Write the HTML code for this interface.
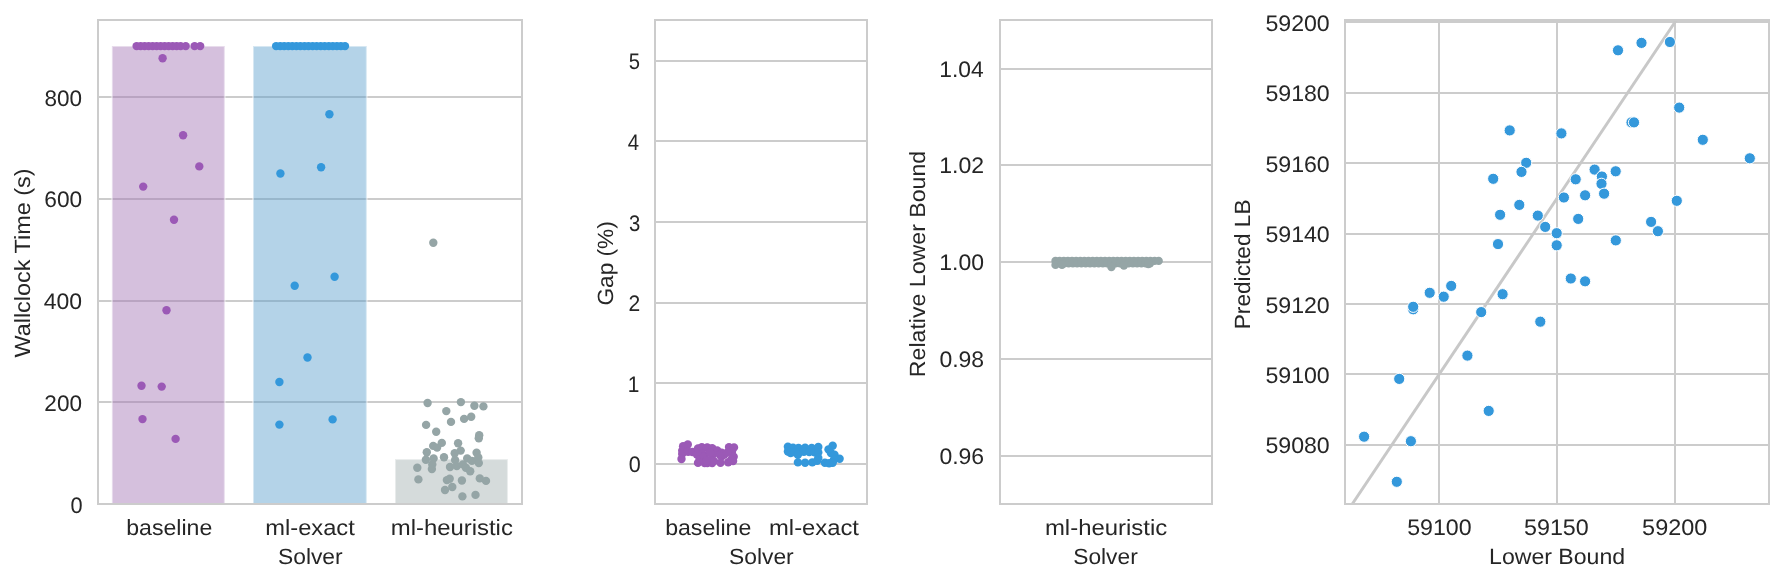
<!DOCTYPE html>
<html><head><meta charset="utf-8"><style>
html,body{margin:0;padding:0;background:#fff;width:1784px;height:582px;overflow:hidden}
svg{display:block;will-change:transform}
text{font-family:"Liberation Sans",sans-serif;fill:#262626;text-rendering:geometricPrecision}
</style></head><body>
<svg width="1784" height="582" viewBox="0 0 1784 582">
<rect x="0" y="0" width="1784" height="582" fill="#fff"/>
<rect x="98" y="96" width="424" height="2" fill="#cccccc" />
<rect x="98" y="198" width="424" height="2" fill="#cccccc" />
<rect x="98" y="300" width="424" height="2" fill="#cccccc" />
<rect x="98" y="401" width="424" height="2" fill="#cccccc" />
<rect x="111.9" y="46" width="112.9" height="458" fill="rgb(162,115,179)" fill-opacity="0.45" stroke="#fff" stroke-opacity="0.45" stroke-width="2"/>
<rect x="253.0" y="46" width="113.8" height="458" fill="rgb(88,157,204)" fill-opacity="0.45" stroke="#fff" stroke-opacity="0.45" stroke-width="2"/>
<rect x="395.0" y="459.1" width="112.9" height="44.9" fill="rgb(162,175,175)" fill-opacity="0.45" stroke="#fff" stroke-opacity="0.45" stroke-width="2"/>
<circle cx="136.6" cy="46.1" r="4.2" fill="#9b59b6" />
<circle cx="140.6" cy="46.1" r="4.2" fill="#9b59b6" />
<circle cx="144.6" cy="46.1" r="4.2" fill="#9b59b6" />
<circle cx="148.6" cy="46.1" r="4.2" fill="#9b59b6" />
<circle cx="152.6" cy="46.1" r="4.2" fill="#9b59b6" />
<circle cx="156.6" cy="46.1" r="4.2" fill="#9b59b6" />
<circle cx="160.6" cy="46.1" r="4.2" fill="#9b59b6" />
<circle cx="164.6" cy="46.1" r="4.2" fill="#9b59b6" />
<circle cx="168.6" cy="46.1" r="4.2" fill="#9b59b6" />
<circle cx="172.6" cy="46.1" r="4.2" fill="#9b59b6" />
<circle cx="176.6" cy="46.1" r="4.2" fill="#9b59b6" />
<circle cx="180.6" cy="46.1" r="4.2" fill="#9b59b6" />
<circle cx="185.7" cy="46.1" r="4.2" fill="#9b59b6" />
<circle cx="194.6" cy="46.1" r="4.2" fill="#9b59b6" />
<circle cx="200.2" cy="46.1" r="4.2" fill="#9b59b6" />
<circle cx="162.6" cy="58.2" r="4.2" fill="#9b59b6" />
<circle cx="183.1" cy="135.2" r="4.2" fill="#9b59b6" />
<circle cx="199.3" cy="166.4" r="4.2" fill="#9b59b6" />
<circle cx="143.2" cy="186.6" r="4.2" fill="#9b59b6" />
<circle cx="174.0" cy="219.8" r="4.2" fill="#9b59b6" />
<circle cx="166.5" cy="310.3" r="4.2" fill="#9b59b6" />
<circle cx="141.5" cy="385.7" r="4.2" fill="#9b59b6" />
<circle cx="161.7" cy="386.6" r="4.2" fill="#9b59b6" />
<circle cx="142.5" cy="419.1" r="4.2" fill="#9b59b6" />
<circle cx="175.6" cy="438.9" r="4.2" fill="#9b59b6" />
<circle cx="276.1" cy="46.1" r="4.2" fill="#3498db" />
<circle cx="280.2" cy="46.1" r="4.2" fill="#3498db" />
<circle cx="284.2" cy="46.1" r="4.2" fill="#3498db" />
<circle cx="288.3" cy="46.1" r="4.2" fill="#3498db" />
<circle cx="292.3" cy="46.1" r="4.2" fill="#3498db" />
<circle cx="296.4" cy="46.1" r="4.2" fill="#3498db" />
<circle cx="300.4" cy="46.1" r="4.2" fill="#3498db" />
<circle cx="304.5" cy="46.1" r="4.2" fill="#3498db" />
<circle cx="308.5" cy="46.1" r="4.2" fill="#3498db" />
<circle cx="312.6" cy="46.1" r="4.2" fill="#3498db" />
<circle cx="316.6" cy="46.1" r="4.2" fill="#3498db" />
<circle cx="320.7" cy="46.1" r="4.2" fill="#3498db" />
<circle cx="324.7" cy="46.1" r="4.2" fill="#3498db" />
<circle cx="328.8" cy="46.1" r="4.2" fill="#3498db" />
<circle cx="332.8" cy="46.1" r="4.2" fill="#3498db" />
<circle cx="336.9" cy="46.1" r="4.2" fill="#3498db" />
<circle cx="340.9" cy="46.1" r="4.2" fill="#3498db" />
<circle cx="345.0" cy="46.1" r="4.2" fill="#3498db" />
<circle cx="329.4" cy="114.2" r="4.2" fill="#3498db" />
<circle cx="280.4" cy="173.5" r="4.2" fill="#3498db" />
<circle cx="321.1" cy="167.2" r="4.2" fill="#3498db" />
<circle cx="334.6" cy="276.7" r="4.2" fill="#3498db" />
<circle cx="294.7" cy="285.8" r="4.2" fill="#3498db" />
<circle cx="307.5" cy="357.5" r="4.2" fill="#3498db" />
<circle cx="279.4" cy="382.0" r="4.2" fill="#3498db" />
<circle cx="332.6" cy="419.4" r="4.2" fill="#3498db" />
<circle cx="279.4" cy="424.6" r="4.2" fill="#3498db" />
<circle cx="433.3" cy="242.8" r="4.2" fill="#95a5a6" />
<circle cx="427.6" cy="403.0" r="4.2" fill="#95a5a6" />
<circle cx="460.9" cy="402.1" r="4.2" fill="#95a5a6" />
<circle cx="474.4" cy="405.8" r="4.2" fill="#95a5a6" />
<circle cx="483.4" cy="406.4" r="4.2" fill="#95a5a6" />
<circle cx="446.3" cy="411.1" r="4.2" fill="#95a5a6" />
<circle cx="451.0" cy="421.9" r="4.2" fill="#95a5a6" />
<circle cx="464.1" cy="418.9" r="4.2" fill="#95a5a6" />
<circle cx="471.2" cy="416.7" r="4.2" fill="#95a5a6" />
<circle cx="426.1" cy="424.9" r="4.2" fill="#95a5a6" />
<circle cx="436.2" cy="431.7" r="4.2" fill="#95a5a6" />
<circle cx="479.2" cy="435.2" r="4.2" fill="#95a5a6" />
<circle cx="478.8" cy="438.2" r="4.2" fill="#95a5a6" />
<circle cx="441.8" cy="442.9" r="4.2" fill="#95a5a6" />
<circle cx="433.2" cy="445.9" r="4.2" fill="#95a5a6" />
<circle cx="437.1" cy="447.6" r="4.2" fill="#95a5a6" />
<circle cx="458.1" cy="443.3" r="4.2" fill="#95a5a6" />
<circle cx="460.7" cy="450.6" r="4.2" fill="#95a5a6" />
<circle cx="426.8" cy="452.3" r="4.2" fill="#95a5a6" />
<circle cx="454.7" cy="453.2" r="4.2" fill="#95a5a6" />
<circle cx="476.6" cy="452.8" r="4.2" fill="#95a5a6" />
<circle cx="425.9" cy="459.7" r="4.2" fill="#95a5a6" />
<circle cx="433.6" cy="458.4" r="4.2" fill="#95a5a6" />
<circle cx="444.0" cy="457.3" r="4.2" fill="#95a5a6" />
<circle cx="455.1" cy="460.1" r="4.2" fill="#95a5a6" />
<circle cx="467.2" cy="458.4" r="4.2" fill="#95a5a6" />
<circle cx="471.9" cy="460.9" r="4.2" fill="#95a5a6" />
<circle cx="478.3" cy="457.5" r="4.2" fill="#95a5a6" />
<circle cx="432.3" cy="464.4" r="4.2" fill="#95a5a6" />
<circle cx="431.9" cy="469.1" r="4.2" fill="#95a5a6" />
<circle cx="417.3" cy="467.8" r="4.2" fill="#95a5a6" />
<circle cx="450.0" cy="467.0" r="4.2" fill="#95a5a6" />
<circle cx="456.8" cy="466.1" r="4.2" fill="#95a5a6" />
<circle cx="462.9" cy="464.4" r="4.2" fill="#95a5a6" />
<circle cx="465.9" cy="467.8" r="4.2" fill="#95a5a6" />
<circle cx="470.2" cy="471.3" r="4.2" fill="#95a5a6" />
<circle cx="478.8" cy="463.1" r="4.2" fill="#95a5a6" />
<circle cx="418.4" cy="479.4" r="4.2" fill="#95a5a6" />
<circle cx="446.9" cy="480.1" r="4.2" fill="#95a5a6" />
<circle cx="449.7" cy="478.8" r="4.2" fill="#95a5a6" />
<circle cx="461.9" cy="480.5" r="4.2" fill="#95a5a6" />
<circle cx="479.8" cy="478.4" r="4.2" fill="#95a5a6" />
<circle cx="486.0" cy="480.9" r="4.2" fill="#95a5a6" />
<circle cx="452.3" cy="487.0" r="4.2" fill="#95a5a6" />
<circle cx="445.0" cy="490.0" r="4.2" fill="#95a5a6" />
<circle cx="462.4" cy="496.4" r="4.2" fill="#95a5a6" />
<circle cx="475.5" cy="494.9" r="4.2" fill="#95a5a6" />
<rect x="97" y="19" width="2" height="486" fill="#cccccc" />
<rect x="521" y="19" width="2" height="486" fill="#cccccc" />
<rect x="97" y="19" width="426" height="2" fill="#cccccc" />
<rect x="97" y="503" width="426" height="2" fill="#cccccc" />
<rect x="655" y="60" width="212" height="2" fill="#cccccc" />
<rect x="655" y="140" width="212" height="2" fill="#cccccc" />
<rect x="655" y="221" width="212" height="2" fill="#cccccc" />
<rect x="655" y="302" width="212" height="2" fill="#cccccc" />
<rect x="655" y="382" width="212" height="2" fill="#cccccc" />
<rect x="655" y="463" width="212" height="2" fill="#cccccc" />
<circle cx="687.8" cy="444.5" r="4.2" fill="#9b59b6" />
<circle cx="683.1" cy="446.2" r="4.2" fill="#9b59b6" />
<circle cx="682.2" cy="450.6" r="4.2" fill="#9b59b6" />
<circle cx="682.2" cy="453.9" r="4.2" fill="#9b59b6" />
<circle cx="681.5" cy="459.0" r="4.2" fill="#9b59b6" />
<circle cx="688.1" cy="451.7" r="4.2" fill="#9b59b6" />
<circle cx="692.5" cy="452.0" r="4.2" fill="#9b59b6" />
<circle cx="696.9" cy="454.5" r="4.2" fill="#9b59b6" />
<circle cx="698.0" cy="448.4" r="4.2" fill="#9b59b6" />
<circle cx="701.8" cy="447.2" r="4.2" fill="#9b59b6" />
<circle cx="706.8" cy="447.9" r="4.2" fill="#9b59b6" />
<circle cx="702.4" cy="453.9" r="4.2" fill="#9b59b6" />
<circle cx="698.0" cy="462.9" r="4.2" fill="#9b59b6" />
<circle cx="704.6" cy="463.0" r="4.2" fill="#9b59b6" />
<circle cx="699.6" cy="459.4" r="4.2" fill="#9b59b6" />
<circle cx="704.0" cy="460.0" r="4.2" fill="#9b59b6" />
<circle cx="707.3" cy="447.4" r="4.2" fill="#9b59b6" />
<circle cx="712.2" cy="448.2" r="4.2" fill="#9b59b6" />
<circle cx="717.2" cy="450.4" r="4.2" fill="#9b59b6" />
<circle cx="721.6" cy="452.6" r="4.2" fill="#9b59b6" />
<circle cx="712.8" cy="454.5" r="4.2" fill="#9b59b6" />
<circle cx="722.1" cy="456.1" r="4.2" fill="#9b59b6" />
<circle cx="707.3" cy="463.0" r="4.2" fill="#9b59b6" />
<circle cx="712.2" cy="463.0" r="4.2" fill="#9b59b6" />
<circle cx="720.5" cy="462.7" r="4.2" fill="#9b59b6" />
<circle cx="728.2" cy="462.2" r="4.2" fill="#9b59b6" />
<circle cx="729.0" cy="447.1" r="4.2" fill="#9b59b6" />
<circle cx="734.0" cy="447.4" r="4.2" fill="#9b59b6" />
<circle cx="732.0" cy="451.7" r="4.2" fill="#9b59b6" />
<circle cx="733.7" cy="456.7" r="4.2" fill="#9b59b6" />
<circle cx="733.1" cy="461.1" r="4.2" fill="#9b59b6" />
<circle cx="704.0" cy="456.1" r="4.2" fill="#9b59b6" />
<circle cx="711.1" cy="460.0" r="4.2" fill="#9b59b6" />
<circle cx="709.5" cy="452.8" r="4.2" fill="#9b59b6" />
<circle cx="713.9" cy="461.1" r="4.2" fill="#9b59b6" />
<circle cx="719.9" cy="455.0" r="4.2" fill="#9b59b6" />
<circle cx="724.3" cy="454.5" r="4.2" fill="#9b59b6" />
<circle cx="731.5" cy="459.4" r="4.2" fill="#9b59b6" />
<circle cx="727.1" cy="452.6" r="4.2" fill="#9b59b6" />
<circle cx="710.1" cy="452.8" r="4.2" fill="#9b59b6" />
<circle cx="706.8" cy="460.5" r="4.2" fill="#9b59b6" />
<circle cx="787.9" cy="446.7" r="4.2" fill="#3498db" />
<circle cx="793.0" cy="447.6" r="4.2" fill="#3498db" />
<circle cx="798.5" cy="447.9" r="4.2" fill="#3498db" />
<circle cx="805.1" cy="447.6" r="4.2" fill="#3498db" />
<circle cx="811.7" cy="447.9" r="4.2" fill="#3498db" />
<circle cx="818.3" cy="447.0" r="4.2" fill="#3498db" />
<circle cx="787.9" cy="451.5" r="4.2" fill="#3498db" />
<circle cx="790.6" cy="453.0" r="4.2" fill="#3498db" />
<circle cx="794.8" cy="452.4" r="4.2" fill="#3498db" />
<circle cx="799.1" cy="452.4" r="4.2" fill="#3498db" />
<circle cx="803.9" cy="451.8" r="4.2" fill="#3498db" />
<circle cx="809.3" cy="452.1" r="4.2" fill="#3498db" />
<circle cx="814.7" cy="452.4" r="4.2" fill="#3498db" />
<circle cx="818.3" cy="452.4" r="4.2" fill="#3498db" />
<circle cx="797.9" cy="454.8" r="4.2" fill="#3498db" />
<circle cx="818.3" cy="457.9" r="4.2" fill="#3498db" />
<circle cx="797.9" cy="462.4" r="4.2" fill="#3498db" />
<circle cx="805.1" cy="462.7" r="4.2" fill="#3498db" />
<circle cx="812.3" cy="462.4" r="4.2" fill="#3498db" />
<circle cx="817.1" cy="460.9" r="4.2" fill="#3498db" />
<circle cx="832.7" cy="445.8" r="4.2" fill="#3498db" />
<circle cx="828.5" cy="449.4" r="4.2" fill="#3498db" />
<circle cx="830.9" cy="453.0" r="4.2" fill="#3498db" />
<circle cx="834.5" cy="454.8" r="4.2" fill="#3498db" />
<circle cx="839.6" cy="458.8" r="4.2" fill="#3498db" />
<circle cx="833.9" cy="459.7" r="4.2" fill="#3498db" />
<circle cx="824.9" cy="462.7" r="4.2" fill="#3498db" />
<circle cx="832.7" cy="462.7" r="4.2" fill="#3498db" />
<circle cx="829.1" cy="463.3" r="4.2" fill="#3498db" />
<rect x="654" y="19" width="2" height="486" fill="#cccccc" />
<rect x="866" y="19" width="2" height="486" fill="#cccccc" />
<rect x="654" y="19" width="214" height="2" fill="#cccccc" />
<rect x="654" y="503" width="214" height="2" fill="#cccccc" />
<rect x="1000" y="68" width="212" height="2" fill="#cccccc" />
<rect x="1000" y="164" width="212" height="2" fill="#cccccc" />
<rect x="1000" y="261" width="212" height="2" fill="#cccccc" />
<rect x="1000" y="358" width="212" height="2" fill="#cccccc" />
<rect x="1000" y="455" width="212" height="2" fill="#cccccc" />
<circle cx="1055.5" cy="260.9" r="4.2" fill="#95a5a6" />
<circle cx="1059.6" cy="260.9" r="4.2" fill="#95a5a6" />
<circle cx="1063.8" cy="260.9" r="4.2" fill="#95a5a6" />
<circle cx="1067.9" cy="260.9" r="4.2" fill="#95a5a6" />
<circle cx="1072.0" cy="260.9" r="4.2" fill="#95a5a6" />
<circle cx="1076.1" cy="260.9" r="4.2" fill="#95a5a6" />
<circle cx="1080.3" cy="260.9" r="4.2" fill="#95a5a6" />
<circle cx="1084.4" cy="260.9" r="4.2" fill="#95a5a6" />
<circle cx="1088.5" cy="260.9" r="4.2" fill="#95a5a6" />
<circle cx="1092.7" cy="260.9" r="4.2" fill="#95a5a6" />
<circle cx="1096.8" cy="260.9" r="4.2" fill="#95a5a6" />
<circle cx="1100.9" cy="260.9" r="4.2" fill="#95a5a6" />
<circle cx="1105.0" cy="260.9" r="4.2" fill="#95a5a6" />
<circle cx="1109.2" cy="260.9" r="4.2" fill="#95a5a6" />
<circle cx="1113.3" cy="260.9" r="4.2" fill="#95a5a6" />
<circle cx="1117.4" cy="260.9" r="4.2" fill="#95a5a6" />
<circle cx="1121.5" cy="260.9" r="4.2" fill="#95a5a6" />
<circle cx="1125.7" cy="260.9" r="4.2" fill="#95a5a6" />
<circle cx="1129.8" cy="260.9" r="4.2" fill="#95a5a6" />
<circle cx="1133.9" cy="260.9" r="4.2" fill="#95a5a6" />
<circle cx="1138.1" cy="260.9" r="4.2" fill="#95a5a6" />
<circle cx="1142.2" cy="260.9" r="4.2" fill="#95a5a6" />
<circle cx="1146.3" cy="260.9" r="4.2" fill="#95a5a6" />
<circle cx="1150.4" cy="260.9" r="4.2" fill="#95a5a6" />
<circle cx="1154.6" cy="260.9" r="4.2" fill="#95a5a6" />
<circle cx="1158.7" cy="260.9" r="4.2" fill="#95a5a6" />
<circle cx="1060.0" cy="263.4" r="4.2" fill="#95a5a6" />
<circle cx="1064.3" cy="263.4" r="4.2" fill="#95a5a6" />
<circle cx="1068.6" cy="263.4" r="4.2" fill="#95a5a6" />
<circle cx="1072.9" cy="263.4" r="4.2" fill="#95a5a6" />
<circle cx="1077.1" cy="263.4" r="4.2" fill="#95a5a6" />
<circle cx="1081.4" cy="263.4" r="4.2" fill="#95a5a6" />
<circle cx="1085.7" cy="263.4" r="4.2" fill="#95a5a6" />
<circle cx="1090.0" cy="263.4" r="4.2" fill="#95a5a6" />
<circle cx="1094.3" cy="263.4" r="4.2" fill="#95a5a6" />
<circle cx="1098.6" cy="263.4" r="4.2" fill="#95a5a6" />
<circle cx="1102.9" cy="263.4" r="4.2" fill="#95a5a6" />
<circle cx="1107.1" cy="263.4" r="4.2" fill="#95a5a6" />
<circle cx="1111.4" cy="263.4" r="4.2" fill="#95a5a6" />
<circle cx="1115.7" cy="263.4" r="4.2" fill="#95a5a6" />
<circle cx="1120.0" cy="263.4" r="4.2" fill="#95a5a6" />
<circle cx="1124.3" cy="263.4" r="4.2" fill="#95a5a6" />
<circle cx="1128.6" cy="263.4" r="4.2" fill="#95a5a6" />
<circle cx="1132.9" cy="263.4" r="4.2" fill="#95a5a6" />
<circle cx="1137.1" cy="263.4" r="4.2" fill="#95a5a6" />
<circle cx="1141.4" cy="263.4" r="4.2" fill="#95a5a6" />
<circle cx="1145.7" cy="263.4" r="4.2" fill="#95a5a6" />
<circle cx="1150.0" cy="263.4" r="4.2" fill="#95a5a6" />
<circle cx="1055.5" cy="264.9" r="4.2" fill="#95a5a6" />
<circle cx="1062.0" cy="264.8" r="4.2" fill="#95a5a6" />
<circle cx="1111.4" cy="267.0" r="4.2" fill="#95a5a6" />
<circle cx="1123.9" cy="265.5" r="4.2" fill="#95a5a6" />
<circle cx="1148.4" cy="264.0" r="4.2" fill="#95a5a6" />
<rect x="999" y="19" width="2" height="486" fill="#cccccc" />
<rect x="1211" y="19" width="2" height="486" fill="#cccccc" />
<rect x="999" y="19" width="214" height="2" fill="#cccccc" />
<rect x="999" y="503" width="214" height="2" fill="#cccccc" />
<rect x="1345" y="21" width="424" height="2" fill="#cccccc" />
<rect x="1345" y="92" width="424" height="2" fill="#cccccc" />
<rect x="1345" y="162" width="424" height="2" fill="#cccccc" />
<rect x="1345" y="233" width="424" height="2" fill="#cccccc" />
<rect x="1345" y="303" width="424" height="2" fill="#cccccc" />
<rect x="1345" y="373" width="424" height="2" fill="#cccccc" />
<rect x="1345" y="444" width="424" height="2" fill="#cccccc" />
<rect x="1438" y="20" width="2" height="484" fill="#cccccc" />
<rect x="1556" y="20" width="2" height="484" fill="#cccccc" />
<rect x="1674" y="20" width="2" height="484" fill="#cccccc" />
<line x1="1352.3" y1="504" x2="1676.4" y2="20" stroke="#c8c8c8" stroke-width="3"/>
<circle cx="1509.7" cy="130.4" r="5.6" fill="#3498db" stroke="#ffffff" stroke-width="1"/>
<circle cx="1561.4" cy="133.4" r="5.6" fill="#3498db" stroke="#ffffff" stroke-width="1"/>
<circle cx="1526.2" cy="162.8" r="5.6" fill="#3498db" stroke="#ffffff" stroke-width="1"/>
<circle cx="1521.5" cy="171.9" r="5.6" fill="#3498db" stroke="#ffffff" stroke-width="1"/>
<circle cx="1493.2" cy="178.8" r="5.6" fill="#3498db" stroke="#ffffff" stroke-width="1"/>
<circle cx="1594.6" cy="169.6" r="5.6" fill="#3498db" stroke="#ffffff" stroke-width="1"/>
<circle cx="1601.9" cy="176.5" r="5.6" fill="#3498db" stroke="#ffffff" stroke-width="1"/>
<circle cx="1601.5" cy="183.8" r="5.6" fill="#3498db" stroke="#ffffff" stroke-width="1"/>
<circle cx="1604.1" cy="193.7" r="5.6" fill="#3498db" stroke="#ffffff" stroke-width="1"/>
<circle cx="1615.7" cy="171.3" r="5.6" fill="#3498db" stroke="#ffffff" stroke-width="1"/>
<circle cx="1575.7" cy="179.3" r="5.6" fill="#3498db" stroke="#ffffff" stroke-width="1"/>
<circle cx="1585.1" cy="195.3" r="5.6" fill="#3498db" stroke="#ffffff" stroke-width="1"/>
<circle cx="1563.9" cy="197.5" r="5.6" fill="#3498db" stroke="#ffffff" stroke-width="1"/>
<circle cx="1519.3" cy="204.9" r="5.6" fill="#3498db" stroke="#ffffff" stroke-width="1"/>
<circle cx="1500.1" cy="214.8" r="5.6" fill="#3498db" stroke="#ffffff" stroke-width="1"/>
<circle cx="1537.8" cy="215.6" r="5.6" fill="#3498db" stroke="#ffffff" stroke-width="1"/>
<circle cx="1545.2" cy="226.9" r="5.6" fill="#3498db" stroke="#ffffff" stroke-width="1"/>
<circle cx="1578.2" cy="218.9" r="5.6" fill="#3498db" stroke="#ffffff" stroke-width="1"/>
<circle cx="1556.7" cy="233.2" r="5.6" fill="#3498db" stroke="#ffffff" stroke-width="1"/>
<circle cx="1556.7" cy="245.3" r="5.6" fill="#3498db" stroke="#ffffff" stroke-width="1"/>
<circle cx="1497.9" cy="243.9" r="5.6" fill="#3498db" stroke="#ffffff" stroke-width="1"/>
<circle cx="1615.8" cy="240.4" r="5.6" fill="#3498db" stroke="#ffffff" stroke-width="1"/>
<circle cx="1618.0" cy="50.3" r="5.6" fill="#3498db" stroke="#ffffff" stroke-width="1"/>
<circle cx="1641.5" cy="42.9" r="5.6" fill="#3498db" stroke="#ffffff" stroke-width="1"/>
<circle cx="1669.9" cy="42.0" r="5.6" fill="#3498db" stroke="#ffffff" stroke-width="1"/>
<circle cx="1679.2" cy="107.6" r="5.6" fill="#3498db" stroke="#ffffff" stroke-width="1"/>
<circle cx="1631.5" cy="122.4" r="5.6" fill="#3498db" stroke="#ffffff" stroke-width="1"/>
<circle cx="1634.0" cy="122.4" r="5.6" fill="#3498db" stroke="#ffffff" stroke-width="1"/>
<circle cx="1702.8" cy="139.8" r="5.6" fill="#3498db" stroke="#ffffff" stroke-width="1"/>
<circle cx="1749.8" cy="158.3" r="5.6" fill="#3498db" stroke="#ffffff" stroke-width="1"/>
<circle cx="1676.8" cy="200.8" r="5.6" fill="#3498db" stroke="#ffffff" stroke-width="1"/>
<circle cx="1651.1" cy="221.9" r="5.6" fill="#3498db" stroke="#ffffff" stroke-width="1"/>
<circle cx="1657.9" cy="231.2" r="5.6" fill="#3498db" stroke="#ffffff" stroke-width="1"/>
<circle cx="1451.2" cy="285.9" r="5.6" fill="#3498db" stroke="#ffffff" stroke-width="1"/>
<circle cx="1429.7" cy="292.8" r="5.6" fill="#3498db" stroke="#ffffff" stroke-width="1"/>
<circle cx="1443.7" cy="296.7" r="5.6" fill="#3498db" stroke="#ffffff" stroke-width="1"/>
<circle cx="1413.2" cy="309.3" r="5.6" fill="#3498db" stroke="#ffffff" stroke-width="1"/>
<circle cx="1413.2" cy="306.8" r="5.6" fill="#3498db" stroke="#ffffff" stroke-width="1"/>
<circle cx="1481.2" cy="312.1" r="5.6" fill="#3498db" stroke="#ffffff" stroke-width="1"/>
<circle cx="1467.4" cy="355.6" r="5.6" fill="#3498db" stroke="#ffffff" stroke-width="1"/>
<circle cx="1399.2" cy="378.9" r="5.6" fill="#3498db" stroke="#ffffff" stroke-width="1"/>
<circle cx="1364.1" cy="436.7" r="5.6" fill="#3498db" stroke="#ffffff" stroke-width="1"/>
<circle cx="1410.9" cy="441.2" r="5.6" fill="#3498db" stroke="#ffffff" stroke-width="1"/>
<circle cx="1396.8" cy="481.8" r="5.6" fill="#3498db" stroke="#ffffff" stroke-width="1"/>
<circle cx="1488.7" cy="410.9" r="5.6" fill="#3498db" stroke="#ffffff" stroke-width="1"/>
<circle cx="1570.8" cy="278.5" r="5.6" fill="#3498db" stroke="#ffffff" stroke-width="1"/>
<circle cx="1585.1" cy="281.3" r="5.6" fill="#3498db" stroke="#ffffff" stroke-width="1"/>
<circle cx="1502.6" cy="294.2" r="5.6" fill="#3498db" stroke="#ffffff" stroke-width="1"/>
<circle cx="1540.3" cy="321.7" r="5.6" fill="#3498db" stroke="#ffffff" stroke-width="1"/>
<circle cx="1498.0" cy="244.1" r="5.6" fill="#3498db" stroke="#ffffff" stroke-width="1"/>
<rect x="1344" y="19" width="2" height="486" fill="#cccccc" />
<rect x="1768" y="19" width="2" height="486" fill="#cccccc" />
<rect x="1344" y="19" width="426" height="2" fill="#cccccc" />
<rect x="1344" y="503" width="426" height="2" fill="#cccccc" />
<text x="44.44" y="106.00" font-size="22.5" textLength="37.54" lengthAdjust="spacingAndGlyphs">800</text>
<text x="44.35" y="207.00" font-size="22.5" textLength="37.86" lengthAdjust="spacingAndGlyphs">600</text>
<text x="43.69" y="309.00" font-size="22.5" textLength="38.30" lengthAdjust="spacingAndGlyphs">400</text>
<text x="44.37" y="411.00" font-size="22.5" textLength="37.61" lengthAdjust="spacingAndGlyphs">200</text>
<text x="70.60" y="513.00" font-size="22.5" textLength="12.10" lengthAdjust="spacingAndGlyphs">0</text>
<text x="-357.55" y="0" transform="translate(29.60,0) rotate(-90)" font-size="22.0" textLength="189.04" lengthAdjust="spacingAndGlyphs">Wallclock Time (s)</text>
<text x="126.26" y="535.00" font-size="22.0" textLength="86.01" lengthAdjust="spacingAndGlyphs">baseline</text>
<text x="265.28" y="535.00" font-size="22.0" textLength="89.45" lengthAdjust="spacingAndGlyphs">ml-exact</text>
<text x="390.76" y="535.00" font-size="22.0" textLength="122.12" lengthAdjust="spacingAndGlyphs">ml-heuristic</text>
<text x="278.01" y="564.00" font-size="22.0" textLength="64.61" lengthAdjust="spacingAndGlyphs">Solver</text>
<text x="628.84" y="69.00" font-size="22.5" textLength="11.26" lengthAdjust="spacingAndGlyphs">5</text>
<text x="627.83" y="150.00" font-size="22.5" textLength="11.31" lengthAdjust="spacingAndGlyphs">4</text>
<text x="628.88" y="231.00" font-size="22.5" textLength="11.26" lengthAdjust="spacingAndGlyphs">3</text>
<text x="628.59" y="311.00" font-size="22.5" textLength="11.72" lengthAdjust="spacingAndGlyphs">2</text>
<text x="627.76" y="392.00" font-size="22.5" textLength="11.61" lengthAdjust="spacingAndGlyphs">1</text>
<text x="628.81" y="472.00" font-size="22.5" textLength="11.98" lengthAdjust="spacingAndGlyphs">0</text>
<text x="-305.59" y="0" transform="translate(613.40,0) rotate(-90)" font-size="22.0" textLength="84.34" lengthAdjust="spacingAndGlyphs">Gap (%)</text>
<text x="665.16" y="535.00" font-size="22.0" textLength="86.12" lengthAdjust="spacingAndGlyphs">baseline</text>
<text x="769.07" y="535.00" font-size="22.0" textLength="89.85" lengthAdjust="spacingAndGlyphs">ml-exact</text>
<text x="728.91" y="564.00" font-size="22.0" textLength="64.82" lengthAdjust="spacingAndGlyphs">Solver</text>
<text x="939.26" y="77.00" font-size="22.5" textLength="44.35" lengthAdjust="spacingAndGlyphs">1.04</text>
<text x="939.24" y="173.00" font-size="22.5" textLength="44.87" lengthAdjust="spacingAndGlyphs">1.02</text>
<text x="939.25" y="270.00" font-size="22.5" textLength="44.70" lengthAdjust="spacingAndGlyphs">1.00</text>
<text x="939.45" y="367.00" font-size="22.5" textLength="44.69" lengthAdjust="spacingAndGlyphs">0.98</text>
<text x="939.45" y="464.00" font-size="22.5" textLength="44.71" lengthAdjust="spacingAndGlyphs">0.96</text>
<text x="-377.15" y="0" transform="translate(924.70,0) rotate(-90)" font-size="22.0" textLength="226.29" lengthAdjust="spacingAndGlyphs">Relative Lower Bound</text>
<text x="1044.96" y="535.00" font-size="22.0" textLength="122.22" lengthAdjust="spacingAndGlyphs">ml-heuristic</text>
<text x="1073.22" y="564.00" font-size="22.0" textLength="64.51" lengthAdjust="spacingAndGlyphs">Solver</text>
<text x="1265.42" y="453.00" font-size="22.5" textLength="64.33" lengthAdjust="spacingAndGlyphs">59080</text>
<text x="1265.42" y="383.00" font-size="22.5" textLength="64.33" lengthAdjust="spacingAndGlyphs">59100</text>
<text x="1265.42" y="313.00" font-size="22.5" textLength="64.33" lengthAdjust="spacingAndGlyphs">59120</text>
<text x="1265.42" y="242.00" font-size="22.5" textLength="64.33" lengthAdjust="spacingAndGlyphs">59140</text>
<text x="1265.42" y="172.00" font-size="22.5" textLength="64.33" lengthAdjust="spacingAndGlyphs">59160</text>
<text x="1265.42" y="101.00" font-size="22.5" textLength="64.33" lengthAdjust="spacingAndGlyphs">59180</text>
<text x="1265.42" y="31.00" font-size="22.5" textLength="64.33" lengthAdjust="spacingAndGlyphs">59200</text>
<text x="-329.31" y="0" transform="translate(1249.70,0) rotate(-90)" font-size="22.0" textLength="129.86" lengthAdjust="spacingAndGlyphs">Predicted LB</text>
<text x="1407.22" y="535.00" font-size="22.5" textLength="64.43" lengthAdjust="spacingAndGlyphs">59100</text>
<text x="1524.02" y="535.00" font-size="22.5" textLength="64.74" lengthAdjust="spacingAndGlyphs">59150</text>
<text x="1642.11" y="535.00" font-size="22.5" textLength="65.15" lengthAdjust="spacingAndGlyphs">59200</text>
<text x="1489.06" y="564.00" font-size="22.0" textLength="136.08" lengthAdjust="spacingAndGlyphs">Lower Bound</text>
</svg></body></html>
